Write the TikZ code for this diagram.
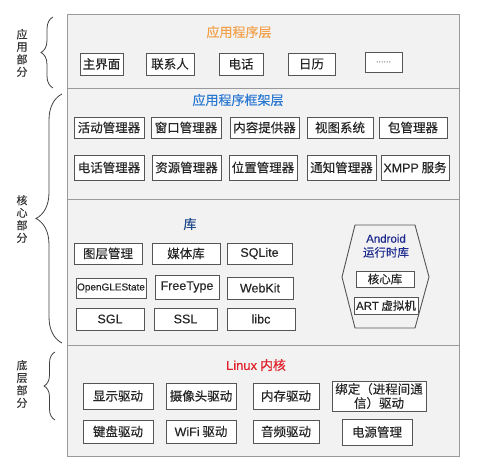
\documentclass[tikz,border=0pt]{standalone}
\usepackage{fontspec}
\setmainfont{Noto Sans CJK SC}[FakeBold=0.3]
\newfontfamily\latn{Liberation Sans}[FakeBold=0.2]
\usepackage{xcolor}
\usetikzlibrary{decorations.pathreplacing}

\definecolor{panelFondo}{HTML}{F2F2F2}
\definecolor{panelBorde}{HTML}{9A9A9A}
\definecolor{boxBorde}{HTML}{555555}
\definecolor{naranja}{HTML}{F3A04A}
\definecolor{azul}{HTML}{2A78D2}
\definecolor{azulOscuro}{HTML}{1F4A8A}
\definecolor{marino}{HTML}{1C2A8E}
\definecolor{rojo}{HTML}{E0202A}

\tikzset{
  panel/.style={draw=panelBorde, fill=panelFondo, line width=1bp},
  modbox/.style={draw=boxBorde, fill=white, line width=0.9bp, inner sep=0pt,
    text=black!85, font=\fontsize{12.5bp}{14.5bp}\selectfont},
  titulo/.style={font=\fontsize{13bp}{15bp}\selectfont},
  parte/.style={align=center, text=black!80, font=\fontsize{11bp}{12.5bp}\selectfont},
  llave/.style={decorate, decoration={brace, amplitude=#1}, line width=0.8bp, draw=black!75}
}

\begin{document}
\begin{tikzpicture}[x=1bp,y=-1bp]
  \useasboundingbox (0,0) rectangle (499,473);

  % Capas
  \draw[panel] (67,15) rectangle (459,89);
  \draw[panel] (67,89) rectangle (459,200);
  \draw[panel] (67,200) rectangle (459,345);
  \draw[panel] (67,345) rectangle (459,456);

  % Llaves y partes
  \draw[llave=12bp] (53,88) -- (53,17);
  \draw[llave=26bp] (62,343) -- (62,94);
  \draw[llave=11bp] (55,420) -- (55,352);
  \node[parte] (appPart) at (22,53) {应\\用\\部\\分};
  \node[parte] (corePart) at (22,219) {核\\心\\部\\分};
  \node[parte] (basePart) at (22,384) {底\\层\\部\\分};

  % Capa de aplicaciones
  \node[titulo, text=naranja] (appTitle) at (239,32) {应用程序层};
  \node[modbox, minimum width=43bp, minimum height=22bp] (home) at (101.5,64) {主界面};
  \node[modbox, minimum width=48bp, minimum height=22bp] (contacts) at (170,64) {联系人};
  \node[modbox, minimum width=44bp, minimum height=22bp] (phone) at (241,64) {电话};
  \node[modbox, minimum width=47bp, minimum height=22bp] (calendar) at (311.5,64) {日历};
  \node[modbox, minimum width=37bp, minimum height=20bp, text=black!60, font=\latn\fontsize{9bp}{10bp}\selectfont] (more) at (383.5,62) {......};

  % Capa de framework
  \node[titulo, text=azul] (fwTitle) at (238,100) {应用程序框架层};
  \node[modbox, minimum width=70bp, minimum height=21bp] (actMgr) at (109,127.5) {活动管理器};
  \node[modbox, minimum width=70bp, minimum height=21bp] (winMgr) at (186,127.5) {窗口管理器};
  \node[modbox, minimum width=69bp, minimum height=21bp] (contentProv) at (264.5,127.5) {内容提供器};
  \node[modbox, minimum width=66bp, minimum height=21bp] (viewSys) at (340,127.5) {视图系统};
  \node[modbox, minimum width=68bp, minimum height=21bp] (pkgMgr) at (413,127.5) {包管理器};
  \node[modbox, minimum width=70bp, minimum height=25bp] (telMgr) at (109,167.5) {电话管理器};
  \node[modbox, minimum width=69bp, minimum height=25bp] (resMgr) at (186.5,167.5) {资源管理器};
  \node[modbox, minimum width=68bp, minimum height=25bp] (locMgr) at (263,167.5) {位置管理器};
  \node[modbox, minimum width=69bp, minimum height=25bp] (notifMgr) at (341.5,167.5) {通知管理器};
  \node[modbox, minimum width=68bp, minimum height=25bp] (xmpp) at (415,167.5) {{\latn XMPP} 服务};

  % Librerias
  \node[titulo, text=azulOscuro] (libTitle) at (190,224) {库};
  \node[modbox, minimum width=68bp, minimum height=21bp] (surface) at (108,253.5) {图层管理};
  \node[modbox, minimum width=68bp, minimum height=21bp] (media) at (186,253.5) {媒体库};
  \node[modbox, minimum width=65bp, minimum height=21bp, font=\latn\fontsize{12.5bp}{14.5bp}\selectfont] (sqlite) at (259.5,253.5) {SQLite};
  \node[modbox, minimum width=70bp, minimum height=20bp, font=\latn\fontsize{10bp}{12bp}\selectfont] (opengl) at (111,288) {OpenGLEState};
  \node[modbox, minimum width=64bp, minimum height=24bp, font=\latn\fontsize{12.5bp}{14.5bp}\selectfont] (freetype) at (187,287) {FreeType};
  \node[modbox, minimum width=66bp, minimum height=22bp, font=\latn\fontsize{12.5bp}{14.5bp}\selectfont] (webkit) at (260,288) {WebKit};
  \node[modbox, minimum width=68bp, minimum height=22bp, font=\latn\fontsize{12.5bp}{14.5bp}\selectfont] (sgl) at (110,319) {SGL};
  \node[modbox, minimum width=63bp, minimum height=22bp, font=\latn\fontsize{12.5bp}{14.5bp}\selectfont] (ssl) at (185.5,319) {SSL};
  \node[modbox, minimum width=68bp, minimum height=22bp, font=\latn\fontsize{12.5bp}{14.5bp}\selectfont] (libc) at (261,319) {libc};

  % Runtime
  \draw[draw=boxBorde, line width=0.9bp] (342,277) -- (355,225) -- (415,225) -- (429,277) -- (415,328) -- (355,328) -- cycle;
  \node[align=center, text=marino, font=\fontsize{11.5bp}{14bp}\selectfont] (rtTitle) at (386,246) {{\latn Android}\\运行时库};
  \node[modbox, minimum width=58bp, minimum height=16bp, font=\fontsize{11.5bp}{13bp}\selectfont] (coreLib) at (385,279) {核心库};
  \node[modbox, minimum width=64bp, minimum height=17bp, font=\fontsize{11.5bp}{13bp}\selectfont] (art) at (386,305.5) {{\latn ART} 虚拟机};

  % Nucleo Linux
  \node[titulo, text=rojo] (kernelTitle) at (256,365) {{\latn Linux} 内核};
  \node[modbox, minimum width=70bp, minimum height=26bp] (display) at (118,396) {显示驱动};
  \node[modbox, minimum width=70bp, minimum height=26bp] (camera) at (201,396) {摄像头驱动};
  \node[modbox, minimum width=66bp, minimum height=26bp] (memory) at (286,396) {内存驱动};
  \node[modbox, minimum width=94bp, minimum height=30bp, align=center, font=\fontsize{12.5bp}{14bp}\selectfont] (binder) at (379,396) {绑定（进程间通\\信）驱动};
  \node[modbox, minimum width=70bp, minimum height=23bp] (keyboard) at (118,431.5) {键盘驱动};
  \node[modbox, minimum width=70bp, minimum height=23bp] (wifi) at (201,431.5) {{\latn WiFi} 驱动};
  \node[modbox, minimum width=66bp, minimum height=23bp] (audio) at (286,431.5) {音频驱动};
  \node[modbox, minimum width=70bp, minimum height=26bp] (power) at (377,432) {电源管理};
\end{tikzpicture}
\end{document}
